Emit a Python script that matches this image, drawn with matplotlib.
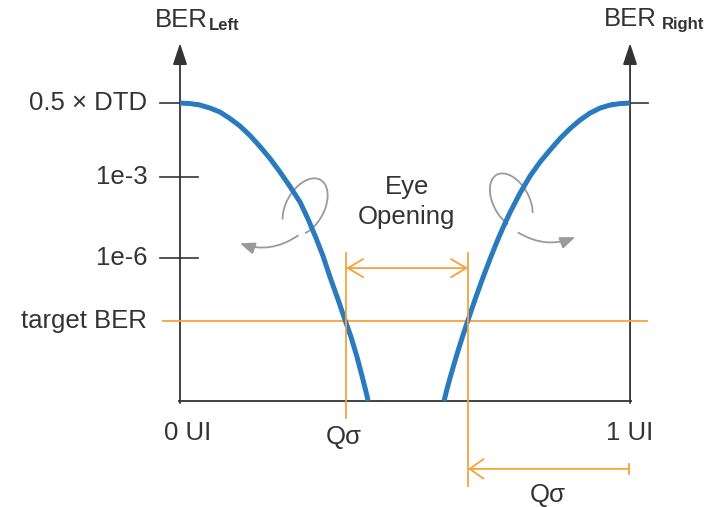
import matplotlib.pyplot as plt
from matplotlib.patches import FancyArrowPatch, Arc

plt.rcParams['font.family'] = ['Liberation Sans', 'DejaVu Sans']

# x in UI (0 = left edge, 1 = right edge), y in schematic BER level (0 = floor, 1 = 0.5 x DTD)
levels = [1.0, 0.752, 0.480, 0.268]
level_labels = ['0.5 × DTD', '1e-3', '1e-6', 'target BER']
target_ber = 0.268

left_x = [0.0, 0.0222, 0.0444, 0.0667, 0.0889, 0.1111, 0.1333, 0.1556, 0.1778, 0.2,
          0.2222, 0.2444, 0.2667, 0.2844, 0.3022, 0.3178, 0.3333, 0.3511, 0.3667,
          0.38, 0.3933, 0.4044, 0.4156, 0.4178]
left_y = [1.0, 0.9983, 0.9933, 0.9832, 0.9698, 0.948, 0.9228, 0.8909, 0.854, 0.8138,
          0.7685, 0.7198, 0.6678, 0.6107, 0.547, 0.4866, 0.4161, 0.3406, 0.2718,
          0.2148, 0.1477, 0.0839, 0.0168, 0.0]
right_x = [0.5867, 0.5933, 0.6, 0.6067, 0.6133, 0.6222, 0.6311, 0.64, 0.6556, 0.6711,
           0.6889, 0.7044, 0.7178, 0.7333, 0.7556, 0.7778, 0.8, 0.8222, 0.8444, 0.8667,
           0.8889, 0.9111, 0.9333, 0.9556, 0.9778, 1.0]
right_y = [0.0, 0.0403, 0.0772, 0.1124, 0.146, 0.1896, 0.2315, 0.2718, 0.3406, 0.406,
           0.4765, 0.5352, 0.5822, 0.6326, 0.698, 0.755, 0.802, 0.8423, 0.8809, 0.9144,
           0.943, 0.9664, 0.9832, 0.9933, 0.9983, 1.0]

q_left = 0.369
q_right = 0.640

ink = '#333333'
blue = '#2a7abf'
orange = '#f7a23b'
grey = '#9a9a9a'
fs = 18.5

fig = plt.figure(figsize=(7.16, 5.07), dpi=100)
ax = fig.add_axes([0, 0, 1, 1])
ax.set_xlim(-0.4, 1.191)
ax.set_ylim(-0.356, 1.346)
ax.axis('off')

# axes with arrow heads
for x0 in (0.0, 1.0):
    ax.add_patch(FancyArrowPatch((x0, -0.007), (x0, 1.201), arrowstyle='-|>,head_length=13,head_width=4.3',
                                 mutation_scale=1, color=ink, lw=1.3, shrinkA=0, shrinkB=0))
ax.plot([-0.004, 1.004], [0, 0], color=ink, lw=1.3, solid_capstyle='butt')

# level ticks and labels
for lv, lab in zip(levels, level_labels):
    if lv == target_ber:
        continue
    ax.plot([-0.044, 0.040], [lv, lv], color=ink, lw=1.2)
    ax.text(-0.073, lv, lab, ha='right', va='center', fontsize=fs, color=ink)
ax.plot([0.96, 1.04], [levels[0], levels[0]], color=ink, lw=1.2)
ax.text(-0.073, target_ber, level_labels[3], ha='right', va='center', fontsize=fs, color=ink)
ax.plot([-0.038, 1.038], [target_ber, target_ber], color=orange, lw=1.3)

# bathtub curves
ax.plot(left_x, left_y, color=blue, lw=3.6, solid_capstyle='butt', solid_joinstyle='round')
ax.plot(right_x, right_y, color=blue, lw=3.6, solid_capstyle='butt', solid_joinstyle='round')

# eye opening markers
ax.plot([q_left, q_left], [0.497, -0.057], color=orange, lw=1.3)
ax.plot([q_right, q_right], [0.497, -0.285], color=orange, lw=1.3)
ax.add_patch(FancyArrowPatch((q_left, 0.446), (q_right, 0.446), arrowstyle='<->,head_length=11,head_width=6.5',
                             mutation_scale=1, color=orange, lw=1.3, shrinkA=0, shrinkB=0))
ax.add_patch(FancyArrowPatch((0.998, -0.228), (q_right, -0.228), arrowstyle='->,head_length=10,head_width=7',
                             mutation_scale=1, color=orange, lw=1.3, shrinkA=0, shrinkB=0))
ax.plot([0.998, 0.998], [-0.212, -0.244], color=orange, lw=1.3)

# rotation hints
ax.add_patch(Arc((0.278, 0.651), 0.089, 0.198, angle=-15, theta1=-75, theta2=235, color=grey, lw=1.3))
ax.add_patch(FancyArrowPatch((0.262, 0.555), (0.133, 0.529), arrowstyle='-|>,head_length=9,head_width=3.6',
                             connectionstyle='arc3,rad=-0.25', mutation_scale=1, color=grey, lw=1.3,
                             shrinkA=0, shrinkB=0))
ax.add_patch(Arc((0.736, 0.671), 0.084, 0.191, angle=15, theta1=-55, theta2=250, color=grey, lw=1.3))
ax.add_patch(FancyArrowPatch((0.752, 0.565), (0.878, 0.550), arrowstyle='-|>,head_length=9,head_width=3.6',
                             connectionstyle='arc3,rad=0.25', mutation_scale=1, color=grey, lw=1.3,
                             shrinkA=0, shrinkB=0))

# text
ax.text(0.504, 0.718, 'Eye', ha='center', va='center', fontsize=fs, color=ink)
ax.text(0.504, 0.617, 'Opening', ha='center', va='center', fontsize=fs, color=ink)
ax.text(0.018, -0.107, '0 UI', ha='center', va='center', fontsize=fs, color=ink)
ax.text(1.0, -0.107, '1 UI', ha='center', va='center', fontsize=fs, color=ink)
ax.text(q_left - 0.006, -0.121, 'Qσ', ha='center', va='center', fontsize=fs, color=ink)
ax.text(0.817, -0.315, 'Qσ', ha='center', va='center', fontsize=fs, color=ink)

ax.text(0.062, 1.255, 'BER', ha='right', va='baseline', fontsize=fs, color=ink)
ax.text(0.064, 1.245, 'Left', ha='left', va='baseline', fontsize=12, fontweight='bold', color=ink)
ax.text(1.060, 1.258, 'BER', ha='right', va='baseline', fontsize=fs, color=ink)
ax.text(1.071, 1.248, 'Right', ha='left', va='baseline', fontsize=12, fontweight='bold', color=ink)

fig.savefig('out.png', dpi=100)
